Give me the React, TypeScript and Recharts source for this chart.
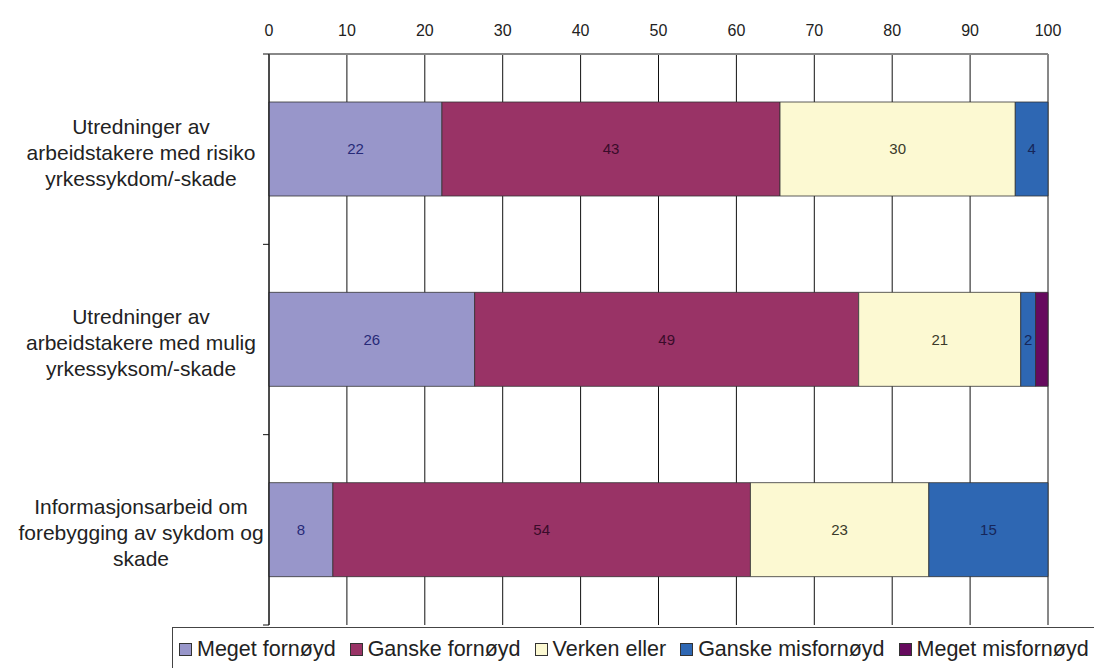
import React from "react";
import {
  BarChart,
  Bar,
  XAxis,
  YAxis,
  CartesianGrid,
  LabelList,
} from "recharts";

const categories = [
  "Utredninger av\narbeidstakere med risiko\nyrkessykdom/-skade",
  "Utredninger av\narbeidstakere med mulig\nyrkessyksom/-skade",
  "Informasjonsarbeid om\nforebygging av sykdom og\nskade",
];

const seriesNames = [
  "Meget fornøyd",
  "Ganske fornøyd",
  "Verken eller",
  "Ganske misfornøyd",
  "Meget misfornøyd",
];

const megetFornoyd = [22.2, 26.4, 8.2];
const ganskeFornoyd = [43.4, 49.3, 53.6];
const verkenEller = [30.2, 20.8, 22.9];
const ganskeMisfornoyd = [4.2, 1.9, 15.3];
const megetMisfornoyd = [0, 1.6, 0];

const xTicks = [0, 10, 20, 30, 40, 50, 60, 70, 80, 90, 100];

const colors = ["#9896ca", "#993366", "#fcf9d2", "#2e67b3", "#660a5e"];
const labelColors = ["#272a78", "#3a0c2a", "#3a3a2a", "#16265a", "#ffffff"];

const seriesKeys = ["s0", "s1", "s2", "s3", "s4"];
const seriesValues = [
  megetFornoyd,
  ganskeFornoyd,
  verkenEller,
  ganskeMisfornoyd,
  megetMisfornoyd,
];

const data = categories.map((name, i) => {
  const row: { [key: string]: string | number } = { name };
  seriesKeys.forEach((k, s) => {
    row[k] = seriesValues[s][i];
  });
  return row;
});

const font = "'Liberation Sans', Arial, sans-serif";

// category label plus the small tick marks at the band edges
const CategoryTick = (props: any) => {
  const { x, y, payload, index } = props;
  const half = payload.offset || 0;
  const lines = String(payload.value).split("\n");
  const cx = x - 128;
  const top = y + 3 - ((lines.length - 1) * 26) / 2;
  return (
    <g>
      {index === 0 && (
        <line x1={x - 6} x2={x} y1={y - half} y2={y - half} stroke="#111" />
      )}
      <line x1={x - 6} x2={x} y1={y + half} y2={y + half} stroke="#111" />
      <text
        x={cx}
        y={top}
        textAnchor="middle"
        fontFamily={font}
        fontSize={21}
        fill="#222"
      >
        {lines.map((l, i) => (
          <tspan key={i} x={cx} y={top + i * 26} dy="0.35em">
            {l}
          </tspan>
        ))}
      </text>
    </g>
  );
};

const Legend = () => (
  <div
    style={{
      position: "absolute",
      left: 172,
      top: 627,
      width: 960,
      height: 44,
      border: "1px solid #444",
      background: "#fff",
      boxSizing: "border-box",
      display: "flex",
      alignItems: "center",
      paddingLeft: 6,
      fontFamily: font,
      fontSize: 21.5,
      color: "#222",
    }}
  >
    {seriesNames.map((n, i) => (
      <div
        key={n}
        style={{ display: "flex", alignItems: "center", marginRight: 14 }}
      >
        <span
          style={{
            display: "inline-block",
            width: 11,
            height: 11,
            border: "1px solid #333",
            background: colors[i],
            marginRight: 5,
          }}
        />
        <span>{n}</span>
      </div>
    ))}
  </div>
);

export default function App() {
  return (
    <div
      style={{
        position: "absolute",
        left: 0,
        top: 0,
        width: 1094,
        height: 668,
        background: "#fff",
        overflow: "hidden",
      }}
    >
      <BarChart
        width={1094}
        height={668}
        data={data}
        layout="vertical"
        margin={{ top: 24, right: 46, bottom: 43, left: 0 }}
        barSize={94}
      >
        <CartesianGrid horizontal={false} stroke="#111" strokeWidth={1} />
        <XAxis
          type="number"
          orientation="top"
          domain={[0, 100]}
          ticks={xTicks}
          height={30}
          axisLine={{ stroke: "#888", strokeWidth: 2 }}
          tickLine={false}
          tickSize={0}
          tickMargin={18}
          tick={{ fontFamily: font, fontSize: 16, fill: "#222" }}
        />
        <YAxis
          type="category"
          dataKey="name"
          width={269}
          axisLine={{ stroke: "#111" }}
          tickLine={false}
          tickSize={0}
          tickMargin={0}
          interval={0}
          tick={<CategoryTick />}
        />
        {seriesKeys.map((k, i) => (
          <Bar
            key={k}
            dataKey={k}
            name={seriesNames[i]}
            stackId="a"
            fill={colors[i]}
            stroke="#333"
            strokeWidth={0.8}
            isAnimationActive={false}
          >
            {i < 4 && (
              <LabelList
                dataKey={k}
                position="center"
                formatter={(v: any) => (v ? Math.round(Number(v)) : "")}
                style={{ fontFamily: font, fontSize: 15, fill: labelColors[i] }}
              />
            )}
          </Bar>
        ))}
      </BarChart>
      <Legend />
    </div>
  );
}
